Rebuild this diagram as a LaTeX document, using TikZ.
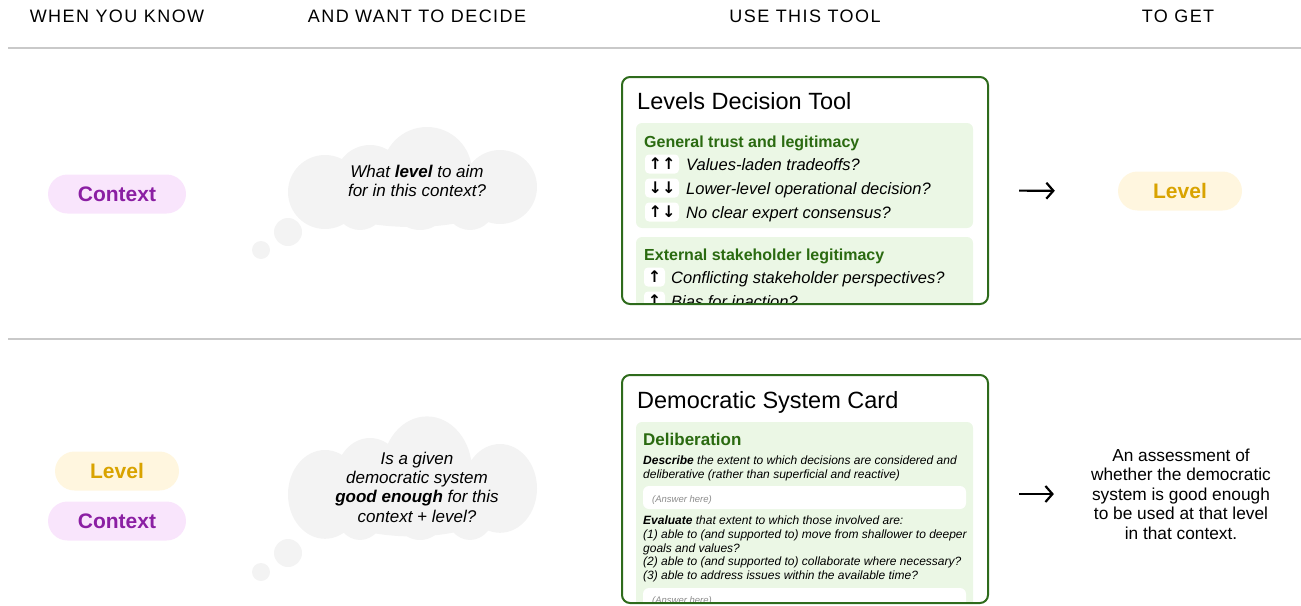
\documentclass[tikz,border=0pt]{standalone}
\usepackage{fontspec}
\setmainfont{Liberation Sans}
\newfontfamily\kopffont[LetterSpace=8]{Liberation Sans}
\newfontfamily\pfeilfont{DejaVu Sans}
\usetikzlibrary{arrows.meta,shapes.misc}

\definecolor{lila}{HTML}{8B1FA3}
\definecolor{lilahell}{HTML}{F9E5FC}
\definecolor{gold}{HTML}{D9A300}
\definecolor{goldhell}{HTML}{FFF6DF}
\definecolor{gruen}{HTML}{2E6B1C}
\definecolor{gruentext}{HTML}{2A6A10}
\definecolor{gruenhell}{HTML}{EBF7E5}
\definecolor{wolke}{HTML}{F3F3F3}
\definecolor{linie}{HTML}{C9C9C9}

\newcommand{\gr}[2]{\fontsize{#1}{#2}\selectfont}

%Denkwolke um (0,0)
\newcommand{\wolkenform}{%
	\fill[wolke] (-92,12) circle[radius=37] (10,-8) circle[radius=45]
		(83,7) circle[radius=37] (3,20) circle[radius=30]
		(-47,0) circle[radius=35] (-57,25) circle[radius=25]
		(53,25) circle[radius=25] (-5,15) ellipse[x radius=95, y radius=32];}

\tikzset{
	kopf/.style={font=\kopffont\gr{18}{20}, inner sep=0},
	pille/.style={rounded rectangle, minimum height=39pt, inner sep=0, font=\bfseries\gr{21}{21}},
	werkzeug/.style={draw=gruen, line width=2pt, rounded corners=8pt, inner sep=0},
	titel/.style={anchor=base west, inner sep=0, font=\gr{23.5}{23.5}},
	rubrik/.style={anchor=base west, inner sep=0, text=gruentext, font=\bfseries\gr{16}{16}},
	punkt/.style={anchor=base west, inner sep=0, font=\itshape\gr{16.5}{18}},
	marke/.style={fill=white, rounded corners=4pt, minimum height=19pt, inner sep=0, font=\pfeilfont\bfseries\gr{16}{16}},
	klein/.style={anchor=north west, inner sep=0, align=left, font=\itshape\gr{12}{13.6}},
	antwort/.style={anchor=base west, inner sep=0, text=black!45, font=\itshape\gr{9.5}{10}},
	gedanke/.style={align=center, inner sep=0, font=\itshape\gr{17}{19.3}},
	pfeil/.style={-{Straight Barb[length=7pt,width=16pt]}, line width=2.2pt}
}

\begin{document}
\begin{tikzpicture}[x=1pt, y=-1pt]

	\useasboundingbox (0,0) rectangle (1301,605);

	%Kopfzeile
	\node[kopf] (k1) at (117,16) {WHEN YOU KNOW};
	\node[kopf] (k2) at (417,16) {AND WANT TO DECIDE};
	\node[kopf] (k3) at (805,16) {USE THIS TOOL};
	\node[kopf] (k4) at (1178,16) {TO GET};

	\draw[linie, line width=1.5pt] (8,48) -- (1301,48);
	\draw[linie, line width=1.5pt] (8,339) -- (1301,339);

	%Erste Zeile
	\node[pille, fill=lilahell, text=lila, minimum width=138pt] (ctx1) at (117,194) {Context};

	\begin{scope}[shift={(417,180)}]
		\wolkenform
	\end{scope}
	\fill[wolke] (288,232) circle[radius=14] (261,250) circle[radius=9];
	\node[gedanke] (frage1) at (417,181) {What \textbf{level} to aim\\for in this context?};

	\begin{scope}
		\clip[rounded corners=8pt] (622,77) rectangle (988,304);
		\node[titel] (titel1) at (637,109) {Levels Decision Tool};

		\fill[gruenhell, rounded corners=6pt] (636,123) rectangle (973,228);
		\node[rubrik] (r1) at (644,147) {General trust and legitimacy};
		\node[marke, minimum width=34pt] (m1) at (662,164) {↑↑};
		\node[marke, minimum width=34pt] (m2) at (662,188) {↓↓};
		\node[marke, minimum width=34pt] (m3) at (662,212) {↑↓};
		\node[punkt] (p1) at (686,170) {Values-laden tradeoffs?};
		\node[punkt] (p2) at (686,194) {Lower-level operational decision?};
		\node[punkt] (p3) at (686,218) {No clear expert consensus?};

		\fill[gruenhell, rounded corners=6pt] (636,237) rectangle (973,340);
		\node[rubrik] (r2) at (644,260) {External stakeholder legitimacy};
		\node[marke, minimum width=21pt] (m4) at (654.5,277) {↑};
		\node[marke, minimum width=21pt] (m5) at (654.5,301) {↑};
		\node[punkt] (p4) at (671,283) {Conflicting stakeholder perspectives?};
		\node[punkt] (p5) at (671,307) {Bias for inaction?};
	\end{scope}
	\node[werkzeug, minimum width=366pt, minimum height=227pt] (tool1) at (805,190.5) {};

	\node[pille, fill=goldhell, text=gold, minimum width=124pt] (lvl1) at (1180,191) {Level};
	\draw[pfeil, shorten <=30pt, shorten >=63pt] (tool1.east) -- (lvl1.west);

	%Zweite Zeile
	\node[pille, fill=goldhell, text=gold, minimum width=124pt] (lvl2) at (117,471) {Level};
	\node[pille, fill=lilahell, text=lila, minimum width=138pt] (ctx2) at (117,521) {Context};

	\begin{scope}[shift={(417,480)}, yscale=1.2]
		\wolkenform
	\end{scope}
	\fill[wolke] (288,553) circle[radius=14] (261,572) circle[radius=9];
	\node[gedanke] (frage2) at (417,487) {Is a given\\democratic system\\\textbf{good enough} for this\\context + level?};

	\begin{scope}
		\clip[rounded corners=8pt] (622,375) rectangle (988,603);
		\node[titel] (titel2) at (637,408) {Democratic System Card};

		\fill[gruenhell, rounded corners=6pt] (636,422) rectangle (973,640);
		\node[rubrik, font=\bfseries\gr{17}{17}] (r3) at (643,445) {Deliberation};
		\node[klein] (d1) at (643,456) {\textbf{Describe} the extent to which decisions are considered and\\deliberative (rather than superficial and reactive)};
		\fill[white, rounded corners=6pt] (643,486) rectangle (966,509);
		\node[antwort] (a1) at (652,502) {(Answer here)};
		\node[klein] (d2) at (643,516) {\textbf{Evaluate} that extent to which those involved are:\\(1) able to (and supported to) move from shallower to deeper\\goals and values?\\(2) able to (and supported to) collaborate where necessary?\\(3) able to address issues within the available time?};
		\fill[white, rounded corners=6pt] (643,588) rectangle (966,620);
		\node[antwort] (a2) at (652,603) {(Answer here)};
	\end{scope}
	\node[werkzeug, minimum width=366pt, minimum height=228pt] (tool2) at (805,489) {};

	\node[align=center, inner sep=0, font=\gr{17.3}{19.5}] (ergebnis) at (1181,494)
		{An assessment of\\whether the democratic\\system is good enough\\to be used at that level\\in that context.};
	\draw[pfeil, shorten <=30pt, shorten >=37pt] (tool2.east |- ergebnis.west) -- (ergebnis.west);

\end{tikzpicture}
\end{document}
